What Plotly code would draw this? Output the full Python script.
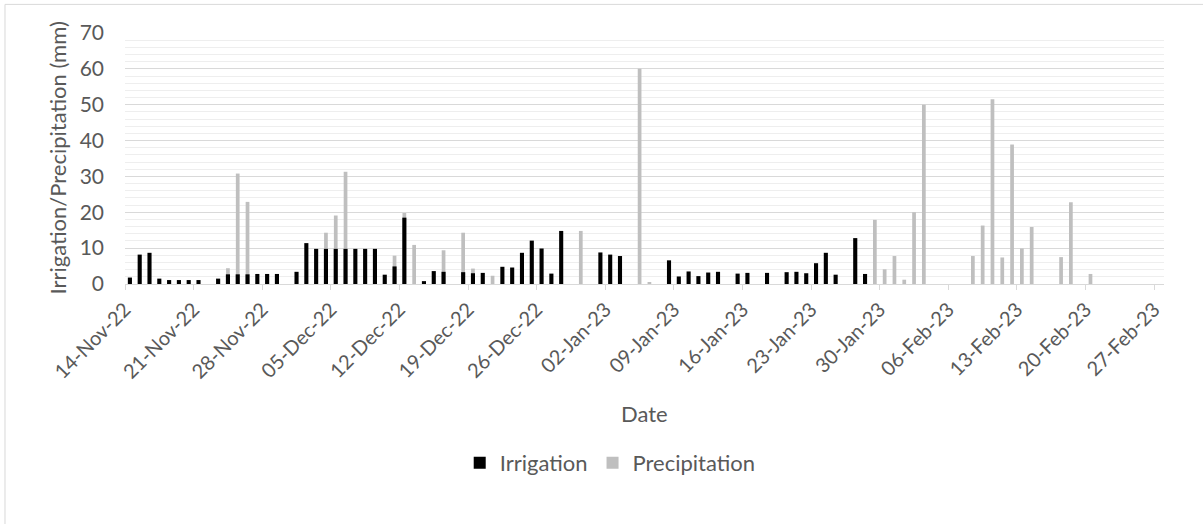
import plotly.graph_objects as go
import pandas as pd

# Daily irrigation applied (mm)
irrigation_dates = [
    "2022-11-14", "2022-11-15", "2022-11-16", "2022-11-17", "2022-11-18", "2022-11-19",
    "2022-11-20", "2022-11-21", "2022-11-23", "2022-11-24", "2022-11-25", "2022-11-26",
    "2022-11-27", "2022-11-28", "2022-11-29", "2022-12-01", "2022-12-02", "2022-12-03",
    "2022-12-04", "2022-12-05", "2022-12-06", "2022-12-07", "2022-12-08", "2022-12-09",
    "2022-12-10", "2022-12-11", "2022-12-12", "2022-12-14", "2022-12-15", "2022-12-16",
    "2022-12-18", "2022-12-19", "2022-12-20", "2022-12-22", "2022-12-23", "2022-12-24",
    "2022-12-25", "2022-12-26", "2022-12-27", "2022-12-28", "2023-01-01", "2023-01-02",
    "2023-01-03", "2023-01-08", "2023-01-09", "2023-01-10", "2023-01-11", "2023-01-12",
    "2023-01-13", "2023-01-15", "2023-01-16", "2023-01-18", "2023-01-20", "2023-01-21",
    "2023-01-22", "2023-01-23", "2023-01-24", "2023-01-25", "2023-01-27", "2023-01-28",
]
irrigation_mm = [
    1.8, 8.2, 8.7, 1.5, 1.1, 1.1,
    1.1, 1.1, 1.5, 2.7, 2.7, 2.7,
    2.8, 2.8, 2.8, 3.4, 11.4, 9.8,
    9.8, 9.8, 9.8, 9.8, 9.8, 9.8,
    2.6, 4.9, 18.5, 0.8, 3.6, 3.4,
    3.3, 3.0, 3.1, 4.8, 4.6, 8.7,
    12.1, 9.9, 2.9, 14.8, 8.8, 8.2,
    7.8, 6.6, 2.1, 3.5, 2.2, 3.2,
    3.4, 2.9, 3.1, 3.1, 3.3, 3.4,
    3.0, 5.8, 8.7, 2.6, 12.8, 2.8,
]

# Daily precipitation (mm)
precip_dates = [
    "2022-11-24", "2022-11-25", "2022-11-26", "2022-12-04", "2022-12-05", "2022-12-06",
    "2022-12-11", "2022-12-12", "2022-12-13", "2022-12-16", "2022-12-18", "2022-12-19",
    "2022-12-21", "2022-12-30", "2023-01-05", "2023-01-06", "2023-01-29", "2023-01-30",
    "2023-01-31", "2023-02-01", "2023-02-02", "2023-02-03", "2023-02-08", "2023-02-09",
    "2023-02-10", "2023-02-11", "2023-02-12", "2023-02-13", "2023-02-14", "2023-02-17",
    "2023-02-18", "2023-02-20",
]
precip_mm = [
    4.4, 30.8, 22.9, 14.3, 19.1, 31.3,
    7.9, 19.8, 10.9, 9.4, 14.3, 4.3,
    2.3, 14.8, 60.0, 0.4, 17.9, 4.1,
    7.8, 1.2, 20.0, 50.0, 7.8, 16.3,
    51.5, 7.4, 38.9, 9.9, 15.9, 7.5,
    22.8, 2.8,
]

# Weekly tick marks on the date axis
tick_dates = [
    "2022-11-14", "2022-11-21", "2022-11-28", "2022-12-05", "2022-12-12", "2022-12-19",
    "2022-12-26", "2023-01-02", "2023-01-09", "2023-01-16", "2023-01-23", "2023-01-30",
    "2023-02-06", "2023-02-13", "2023-02-20", "2023-02-27",
]
tick_labels = [
    "14-Nov-22", "21-Nov-22", "28-Nov-22", "05-Dec-22", "12-Dec-22", "19-Dec-22",
    "26-Dec-22", "02-Jan-23", "09-Jan-23", "16-Jan-23", "23-Jan-23", "30-Jan-23",
    "06-Feb-23", "13-Feb-23", "20-Feb-23", "27-Feb-23",
]

FONT = "Lato, 'Open Sans', sans-serif"
TEXT = "#595959"
DAY_MS = 86400000
half_day = pd.Timedelta(hours=12)

# bars sit in the middle of each day slot
irr_x = pd.to_datetime(irrigation_dates) + half_day
pre_x = pd.to_datetime(precip_dates) + half_day

fig = go.Figure()
fig.add_trace(go.Bar(
    x=pre_x, y=precip_mm, name="Precipitation",
    marker=dict(color="#bfbfbf", line=dict(width=0)),
    width=0.38 * DAY_MS,
))
fig.add_trace(go.Bar(
    x=irr_x, y=irrigation_mm, name="Irrigation",
    marker=dict(color="#000000", line=dict(width=0)),
    width=0.42 * DAY_MS,
))

fig.update_layout(
    width=1203, height=524,
    margin=dict(l=125, r=39, t=33, b=240),
    paper_bgcolor="white", plot_bgcolor="white",
    barmode="overlay",
    font=dict(family=FONT, color=TEXT, size=20),
    showlegend=True,
    legend=dict(
        orientation="h", traceorder="reversed",
        x=0.467, xanchor="center", y=-0.713, yanchor="middle",
        font=dict(size=22, color=TEXT), itemwidth=30,
    ),
    xaxis=dict(
        type="date",
        range=["2022-11-14", "2023-02-28"],
        tickmode="array", tickvals=tick_dates, ticktext=tick_labels,
        tickangle=-45,
        tickfont=dict(size=20, color=TEXT),
        showgrid=False,
        showline=True, linecolor="#d9d9d9", linewidth=1,
        ticks="outside", ticklen=5, tickcolor="#d9d9d9",
    ),
    yaxis=dict(
        range=[0, 70], dtick=10,
        tickfont=dict(size=21, color=TEXT),
        showgrid=True, gridcolor="#d9d9d9", gridwidth=1,
        minor=dict(dtick=2, showgrid=True, gridcolor="#eeeeee", gridwidth=1),
        zeroline=False, showline=False,
        ticklabelstandoff=20,
    ),
    annotations=[
        dict(text="Date", xref="paper", yref="paper", x=0.5, y=-0.514,
             showarrow=False, font=dict(size=22, color=TEXT),
             xanchor="center", yanchor="middle"),
        dict(text="Irrigation/Precipitation (mm)", xref="paper", yref="paper",
             x=-0.0654, y=0.5, textangle=-90, showarrow=False,
             font=dict(size=22, color=TEXT), xanchor="center", yanchor="middle"),
    ],
    shapes=[
        dict(type="rect", xref="paper", yref="paper",
             x0=-0.1155, x1=1.2, y0=-1.2, y1=1.114,
             line=dict(color="#d9d9d9", width=1), fillcolor="rgba(0,0,0,0)",
             layer="below"),
    ],
)

fig.write_html("out.html")
